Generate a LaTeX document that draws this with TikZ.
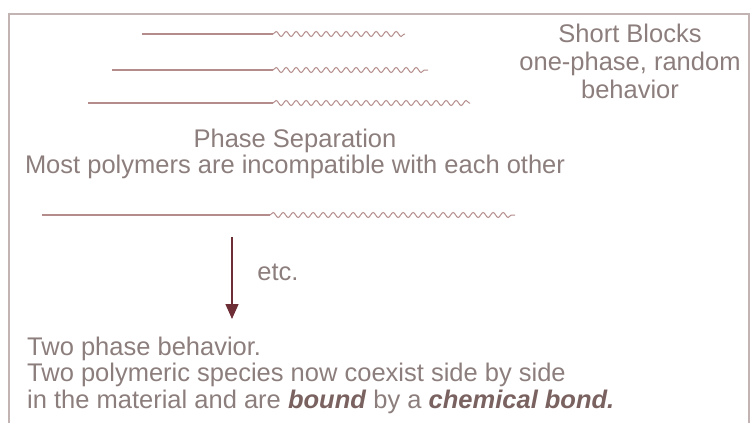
\documentclass[tikz,border=0pt]{standalone}
\usepackage{fontspec}
\setmainfont{Liberation Sans}
\usetikzlibrary{decorations.pathmorphing,arrows.meta}
\definecolor{chain}{HTML}{B48C8C}
\definecolor{txt}{HTML}{8C7E7C}
\definecolor{boldtxt}{HTML}{7A6260}
\definecolor{arrowc}{HTML}{6E2E36}
\definecolor{frame}{HTML}{C2B4B2}

\begin{document}
\begin{tikzpicture}[x=1pt,y=-1pt,
  hard/.style={chain,line width=1.7pt},
  soft/.style={chain,line width=1pt,decorate,
    decoration={snake,segment length=10pt,amplitude=2.5pt}},
  label/.style={txt,inner sep=0pt,font=\fontsize{25.5}{26.5}\selectfont}]
\useasboundingbox (0,0) rectangle (750,423);
\draw[frame,line width=1.5pt] (9,430) -- (9,14) -- (749,14) -- (749,430);
% block copolymer chains
\foreach \n/\xa/\xj/\xb/\y in {1/142/273/405/34,2/112/273/428/70,3/88/273/470/103,4/42/270/515/215}{
  \coordinate (a\n) at (\xa,\y);
  \coordinate (j\n) at (\xj,\y);
  \coordinate (b\n) at (\xb,\y);
  \draw[hard] (a\n) -- (j\n);
  \draw[soft] (j\n) -- (b\n);
}
\node[label,align=center,font=\fontsize{25.5}{28}\selectfont] (short) at (630,61) {Short Blocks\\one-phase, random\\behavior};
\node[label,align=center] (phase) at (295,154) {Phase Separation\\Most polymers are incompatible with each other};
\node[label] (etc) at (278,272) {etc.};
\coordinate (top) at (232,237);
\coordinate (tip) at (232,319);
\draw[arrowc,line width=1.3pt,-{Triangle[length=15pt,width=13pt]}] (top) -- (tip);
\node[label,align=left,anchor=west] (two) at (27,375) {Two phase behavior.\\
Two polymeric species now coexist side by side\\
in the material and are \textcolor{boldtxt}{\textbf{\textit{bound}}} by a \textcolor{boldtxt}{\textbf{\textit{chemical bond.}}}};
\end{tikzpicture}
\end{document}
